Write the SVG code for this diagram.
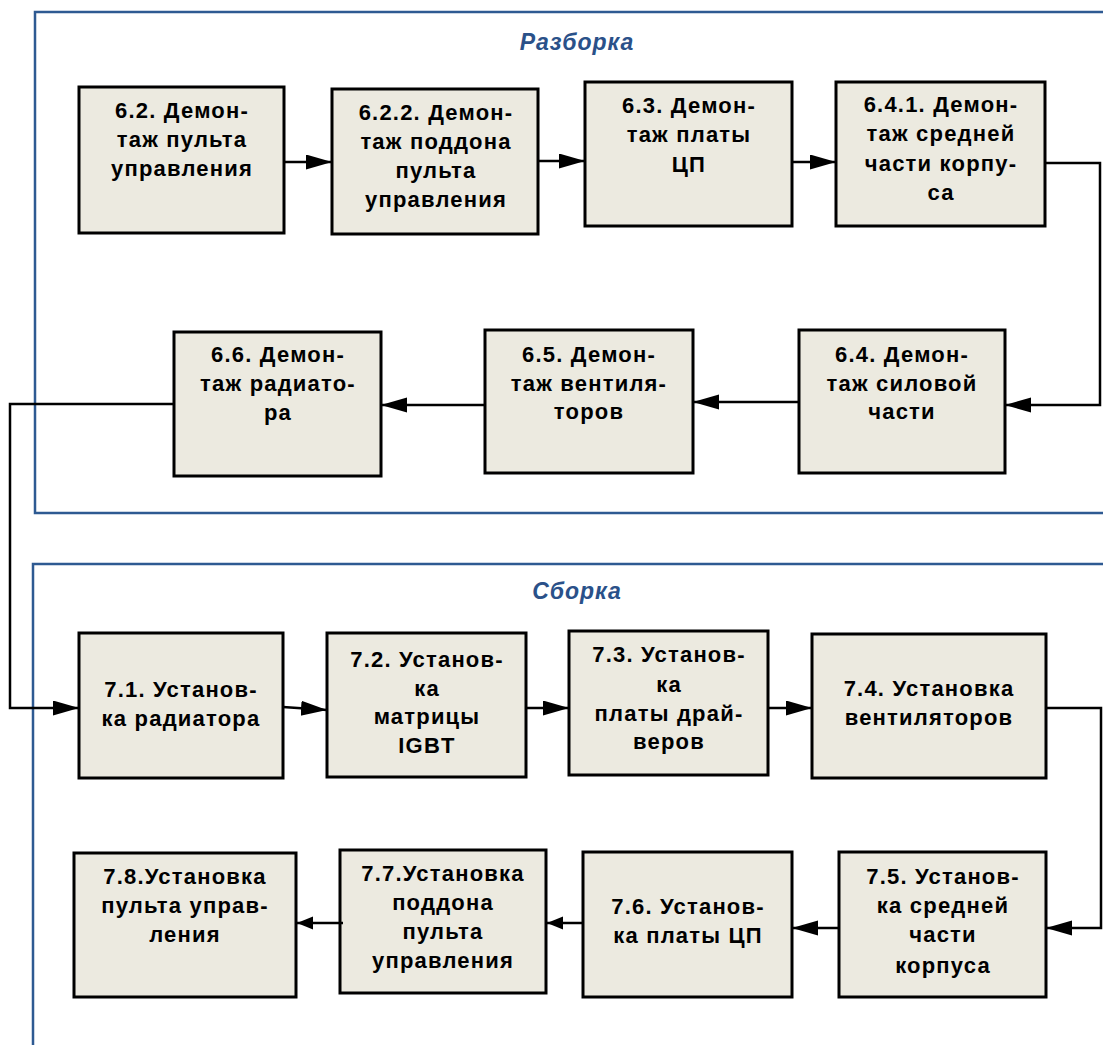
<svg xmlns="http://www.w3.org/2000/svg" width="1103" height="1045" viewBox="0 0 1103 1045">
<style>
.frame{fill:none;stroke:#2E5A92;stroke-width:2.5}
.title{font-family:"Liberation Sans",Arial,sans-serif;font-size:23px;font-weight:bold;font-style:italic;fill:#2A5189;text-anchor:middle;letter-spacing:1px}
.box{fill:#ECEAE0;stroke:#000;stroke-width:3}
.t{font-family:"Liberation Sans",Arial,sans-serif;font-size:22px;font-weight:bold;fill:#000;text-anchor:middle;letter-spacing:1.2px}
.c{fill:none;stroke:#000;stroke-width:2.5}
.a{marker-end:url(#arr)}
.s{marker-end:url(#sarr)}
</style>
<defs>
<marker id="arr" markerUnits="userSpaceOnUse" markerWidth="26" markerHeight="16" refX="26" refY="7.5" orient="auto">
<path d="M0,0 L26,7.5 L0,15 z" fill="#000"/>
</marker>
<marker id="sarr" markerUnits="userSpaceOnUse" markerWidth="17" markerHeight="14" refX="16" refY="6.5" orient="auto">
<path d="M0,0 L16,6.5 L0,13 z" fill="#000"/>
</marker>
</defs>
<rect class="frame" x="35" y="12" width="1100" height="501"/>
<rect class="frame" x="33" y="564" width="1100" height="600"/>
<text class="title" x="577" y="50">Разборка</text>
<text class="title" x="577" y="599">Сборка</text>

<g id="n62"><rect class="box" x="79" y="87" width="205" height="146"/>
<text class="t" x="182" y="118">6.2. Демон-</text><text class="t" x="182" y="147">таж пульта</text><text class="t" x="182" y="176">управления</text></g>
<g id="n622"><rect class="box" x="332" y="89" width="206" height="145"/>
<text class="t" x="436" y="120">6.2.2. Демон-</text><text class="t" x="436" y="149">таж поддона</text><text class="t" x="436" y="178">пульта</text><text class="t" x="436" y="207">управления</text></g>
<g id="n63"><rect class="box" x="585" y="82" width="207" height="144"/>
<text class="t" x="689" y="113">6.3. Демон-</text><text class="t" x="689" y="142">таж платы</text><text class="t" x="689" y="172">ЦП</text></g>
<g id="n641"><rect class="box" x="836" y="82" width="209" height="144"/>
<text class="t" x="941" y="112">6.4.1. Демон-</text><text class="t" x="941" y="141">таж средней</text><text class="t" x="941" y="171">части корпу-</text><text class="t" x="941" y="200">са</text></g>

<g id="n66"><rect class="box" x="174" y="332" width="207" height="144"/>
<text class="t" x="278" y="362">6.6. Демон-</text><text class="t" x="278" y="391">таж радиато-</text><text class="t" x="278" y="420">ра</text></g>
<g id="n65"><rect class="box" x="485" y="330" width="208" height="143"/>
<text class="t" x="589" y="362">6.5. Демон-</text><text class="t" x="589" y="391">таж вентиля-</text><text class="t" x="589" y="419">торов</text></g>
<g id="n64"><rect class="box" x="799" y="330" width="206" height="143"/>
<text class="t" x="902" y="362">6.4. Демон-</text><text class="t" x="902" y="391">таж силовой</text><text class="t" x="902" y="419">части</text></g>

<g id="n71"><rect class="box" x="79" y="633" width="204" height="145"/>
<text class="t" x="181" y="697">7.1. Установ-</text><text class="t" x="181" y="726">ка радиатора</text></g>
<g id="n72"><rect class="box" x="327" y="633" width="199" height="144"/>
<text class="t" x="427" y="667">7.2. Установ-</text><text class="t" x="427" y="696">ка</text><text class="t" x="427" y="724">матрицы</text><text class="t" x="427" y="753">IGBT</text></g>
<g id="n73"><rect class="box" x="569" y="631" width="199" height="144"/>
<text class="t" x="669" y="662">7.3. Установ-</text><text class="t" x="669" y="692">ка</text><text class="t" x="669" y="721">платы драй-</text><text class="t" x="669" y="749">веров</text></g>
<g id="n74"><rect class="box" x="812" y="634" width="234" height="144"/>
<text class="t" x="929" y="696">7.4. Установка</text><text class="t" x="929" y="725">вентиляторов</text></g>

<g id="n75"><rect class="box" x="839" y="852" width="207" height="145"/>
<text class="t" x="943" y="884">7.5. Установ-</text><text class="t" x="943" y="913">ка средней</text><text class="t" x="943" y="942">части</text><text class="t" x="943" y="973">корпуса</text></g>
<g id="n76"><rect class="box" x="583" y="852" width="209" height="145"/>
<text class="t" x="688" y="914">7.6. Установ-</text><text class="t" x="688" y="943">ка платы ЦП</text></g>
<g id="n77"><rect class="box" x="340" y="850" width="206" height="143"/>
<text class="t" x="443" y="881">7.7.Установка</text><text class="t" x="443" y="910">поддона</text><text class="t" x="443" y="939">пульта</text><text class="t" x="443" y="968">управления</text></g>
<g id="n78"><rect class="box" x="74" y="853" width="222" height="144"/>
<text class="t" x="185" y="884">7.8.Установка</text><text class="t" x="185" y="913">пульта управ-</text><text class="t" x="185" y="942">ления</text></g>

<g id="connectors">
<path class="c a" d="M284,162 H332"/>
<path class="c a" d="M538,161 H585"/>
<path class="c a" d="M792,162 H836"/>
<path class="c a" d="M1045,163 H1100 V405 H1005"/>
<path class="c a" d="M799,402 H693"/>
<path class="c a" d="M485,405 H381"/>
<path class="c a" d="M174,404 H10 V708 H79"/>
<path class="c a" d="M283,707 L327,710"/>
<path class="c a" d="M526,708 H569"/>
<path class="c a" d="M768,708 H812"/>
<path class="c a" d="M1046,708 H1101 V928 H1046"/>
<path class="c a" d="M839,928 H792"/>
<path class="c s" d="M583,923 H547"/>
<path class="c s" d="M343,923 H297"/>
</g>
</svg>
